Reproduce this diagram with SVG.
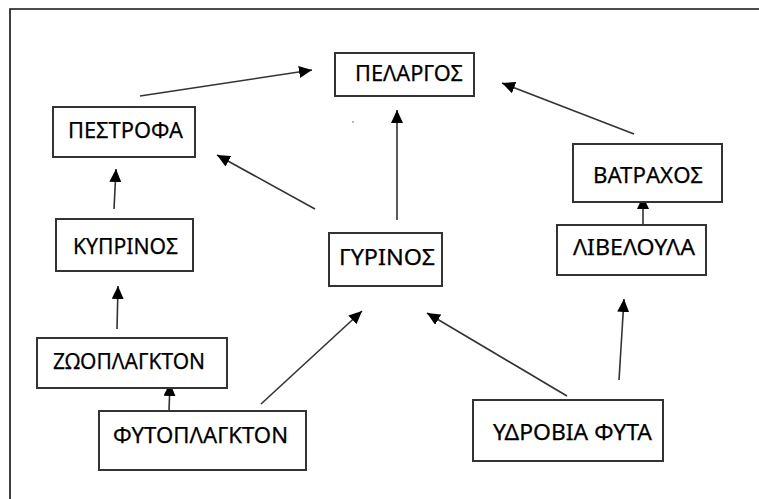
<svg xmlns="http://www.w3.org/2000/svg" width="759" height="499" viewBox="0 0 759 499">
<style>
.box{fill:#fff;stroke:#333;stroke-width:2}
.lbl{font-family:"Noto Sans","Open Sans","DejaVu Sans",sans-serif;font-size:22px;fill:#000;stroke:#000;stroke-width:0.25}
.arr{stroke:#333;stroke-width:1.6;fill:none;marker-end:url(#ah)}
</style>
<defs>
<marker id="ah" markerUnits="userSpaceOnUse" markerWidth="14" markerHeight="12" refX="13" refY="6" orient="auto">
<path d="M0,0 L13,6 L0,12 Z" fill="#000"/>
</marker>
</defs>
<rect width="759" height="499" fill="#fff"/>
<path d="M10,499 V9 H759" fill="none" stroke="#111" stroke-width="1.6"/>
<circle cx="353" cy="122" r="0.9" fill="#999"/>
<g id="connectors">
<line class="arr" x1="140" y1="96" x2="312" y2="70"/>
<line class="arr" x1="315" y1="209" x2="217" y2="155"/>
<line class="arr" x1="114" y1="209" x2="116" y2="169"/>
<line class="arr" x1="397" y1="220" x2="397" y2="110"/>
<line class="arr" x1="634" y1="134" x2="502" y2="83"/>
<line class="arr" x1="643" y1="228" x2="643" y2="196"/>
<line class="arr" x1="117" y1="329" x2="118" y2="286"/>
<line class="arr" x1="169" y1="411" x2="170" y2="383"/>
<line class="arr" x1="261" y1="404" x2="362" y2="311"/>
<line class="arr" x1="567" y1="396" x2="427" y2="313"/>
<line class="arr" x1="619" y1="380" x2="624" y2="299"/>
</g>
<g id="pelargos"><rect class="box" x="335" y="53" width="139" height="43"/><text class="lbl" x="355" y="81" textLength="108" lengthAdjust="spacingAndGlyphs">ΠΕΛΑΡΓΟΣ</text></g>
<g id="pestrofa"><rect class="box" x="53" y="107" width="142" height="50"/><text class="lbl" x="68" y="138" textLength="115" lengthAdjust="spacingAndGlyphs">ΠΕΣΤΡΟΦΑ</text></g>
<g id="kyprinos"><rect class="box" x="56" y="219" width="137" height="52"/><text class="lbl" x="73" y="254" textLength="105" lengthAdjust="spacingAndGlyphs">ΚΥΠΡΙΝΟΣ</text></g>
<g id="gyrinos"><rect class="box" x="329" y="233" width="113" height="53"/><text class="lbl" x="339" y="265" textLength="96" lengthAdjust="spacingAndGlyphs">ΓΥΡΙΝΟΣ</text></g>
<g id="vatrachos"><rect class="box" x="573" y="144" width="149" height="58"/><text class="lbl" x="593" y="183" textLength="110" lengthAdjust="spacingAndGlyphs">ΒΑΤΡΑΧΟΣ</text></g>
<g id="liveloula"><rect class="box" x="557" y="225" width="149" height="50"/><text class="lbl" x="573" y="255" textLength="122" lengthAdjust="spacingAndGlyphs">ΛΙΒΕΛΟΥΛΑ</text></g>
<g id="zooplagkton"><rect class="box" x="37" y="338" width="190" height="50"/><text class="lbl" x="53" y="369" textLength="152" lengthAdjust="spacingAndGlyphs">ΖΩΟΠΛΑΓΚΤΟΝ</text></g>
<g id="fytoplagkton"><rect class="box" x="99" y="411" width="207" height="59"/><text class="lbl" x="113" y="443" textLength="175" lengthAdjust="spacingAndGlyphs">ΦΥΤΟΠΛΑΓΚΤΟΝ</text></g>
<g id="ydrovia"><rect class="box" x="473" y="400" width="190" height="61"/><text class="lbl" x="493" y="440" textLength="159" lengthAdjust="spacingAndGlyphs">ΥΔΡΟΒΙΑ ΦΥΤΑ</text></g>
</svg>
